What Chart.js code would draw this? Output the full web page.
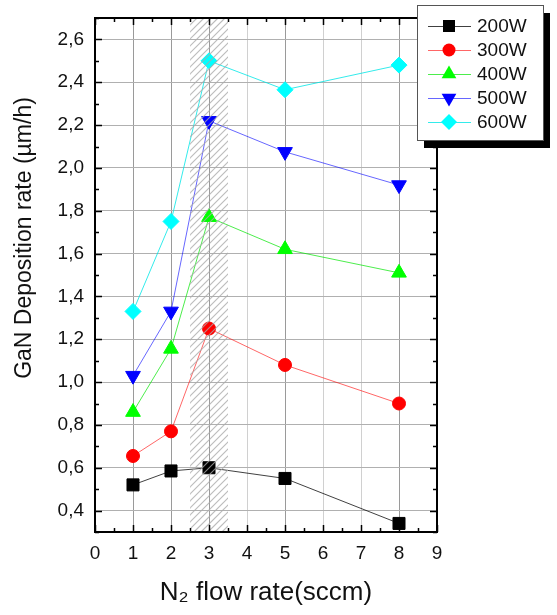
<!DOCTYPE html>
<html>
<head>
<meta charset="utf-8">
<script src="https://cdn.jsdelivr.net/npm/chart.js@4.4.0/dist/chart.umd.min.js"></script>
<style>
html, body { margin: 0; padding: 0; background: #fff; }
#wrap { width: 557px; height: 615px; }
</style>
</head>
<body>
<div id="wrap"><canvas id="grafico"></canvas></div>
<script>
// dados
var fluxos = [1, 2, 3, 5, 8];
var nomesSeries = ["200W", "300W", "400W", "500W", "600W"];
var taxa200 = [0.52, 0.585, 0.60, 0.55, 0.34];
var taxa300 = [0.655, 0.77, 1.25, 1.08, 0.90];
var taxa400 = [0.86, 1.155, 1.77, 1.62, 1.51];
var taxa500 = [1.03, 1.33, 2.22, 2.075, 1.92];
var taxa600 = [1.33, 1.75, 2.50, 2.365, 2.48];
var ticksX = [0, 1, 2, 3, 4, 5, 6, 7, 8, 9];
var ticksY = [0.4, 0.6, 0.8, 1.0, 1.2, 1.4, 1.6, 1.8, 2.0, 2.2, 2.4, 2.6];
var zonaInicio = 2.5;
var zonaFim = 3.5;
var tituloY = 'GaN Deposition rate (\u00b5m/h)';

var fonte = "'Liberation Sans', Arial, sans-serif";

function serie(label, valores, cor, corLinha, simbolo, raio, rot) {
    var pontos = [];
    for (var i = 0; i < fluxos.length; i++) {
        pontos.push({x: fluxos[i], y: valores[i]});
    }
    return {
        label: label,
        data: pontos,
        borderColor: corLinha,
        borderWidth: 1,
        backgroundColor: cor,
        pointBackgroundColor: cor,
        pointBorderColor: cor,
        pointBorderWidth: 1,
        pointStyle: simbolo,
        pointRadius: raio,
        pointRotation: rot,
        showLine: true,
        tension: 0
    };
}

var datasets = [
    serie(nomesSeries[0], taxa200, '#000000', 'rgba(0,0,0,0.75)', 'rect', 8.5, 0),
    serie(nomesSeries[1], taxa300, '#ff0000', 'rgba(255,0,0,0.6)', 'circle', 6.5, 0),
    serie(nomesSeries[2], taxa400, '#00ff00', 'rgba(0,230,0,0.7)', 'triangle', 8.5, 0),
    serie(nomesSeries[3], taxa500, '#0000ff', 'rgba(0,0,255,0.6)', 'triangle', 8.5, 180),
    serie(nomesSeries[4], taxa600, '#00ffff', 'rgba(0,230,230,0.8)', 'rectRot', 8, 0)
];

// zona tracejada, moldura, ticks para dentro, titulo Y e legenda
var extras = {
    id: 'extras',
    afterDatasetsDraw: function (chart) {
        var ctx = chart.ctx;
        var a = chart.chartArea;
        var x0 = chart.scales.x.getPixelForValue(zonaInicio);
        var x1 = chart.scales.x.getPixelForValue(zonaFim);
        ctx.save();
        ctx.beginPath();
        ctx.rect(x0, a.top, x1 - x0, a.bottom - a.top);
        ctx.clip();
        ctx.strokeStyle = 'rgba(170,170,170,0.8)';
        ctx.lineWidth = 1.2;
        var h = a.bottom - a.top;
        for (var s = x0 - h; s < x1 + 10; s += 7) {
            ctx.beginPath();
            ctx.moveTo(s, a.bottom);
            ctx.lineTo(s + h, a.top);
            ctx.stroke();
        }
        ctx.restore();
    },
    afterDraw: function (chart) {
        var ctx = chart.ctx;
        var a = chart.chartArea;
        var sx = chart.scales.x;
        var sy = chart.scales.y;
        ctx.save();
        ctx.strokeStyle = '#000';
        ctx.lineWidth = 2;
        ctx.strokeRect(a.left, a.top, a.right - a.left, a.bottom - a.top);

        ctx.lineWidth = 1.5;
        ctx.beginPath();
        var v, p, len;
        for (v = 0; v <= 18; v++) {
            p = Math.round(sx.getPixelForValue(v / 2)) + 0.5;
            len = (v % 2 == 0) ? 7 : 4;
            ctx.moveTo(p, a.bottom); ctx.lineTo(p, a.bottom - len);
            ctx.moveTo(p, a.top); ctx.lineTo(p, a.top + len);
        }
        for (v = 3; v <= 27; v++) {
            p = Math.round(sy.getPixelForValue(v / 10)) + 0.5;
            len = (v % 2 == 0) ? 7 : 4;
            ctx.moveTo(a.left, p); ctx.lineTo(a.left + len, p);
            ctx.moveTo(a.right, p); ctx.lineTo(a.right - len, p);
        }
        ctx.stroke();

        // titulo do eixo Y
        ctx.save();
        ctx.translate(25, 238);
        ctx.rotate(-Math.PI / 2);
        ctx.font = '23px ' + fonte;
        ctx.fillStyle = '#111';
        ctx.textAlign = 'center';
        ctx.textBaseline = 'middle';
        ctx.fillText(tituloY, 0, 0);
        ctx.restore();

        // legenda
        var lx = 417, ly = 5, lw = 126, lh = 135;
        ctx.fillStyle = '#000';
        ctx.fillRect(lx + 7, ly + 8, lw, lh);
        ctx.fillStyle = '#fff';
        ctx.fillRect(lx, ly, lw, lh);
        ctx.lineWidth = 1;
        ctx.strokeStyle = '#555';
        ctx.strokeRect(lx + 0.5, ly + 0.5, lw, lh);
        ctx.font = '19px ' + fonte;
        ctx.textBaseline = 'middle';
        ctx.textAlign = 'left';
        for (var i = 0; i < chart.data.datasets.length; i++) {
            var ds = chart.data.datasets[i];
            var yy = 26 + i * 24;
            ctx.strokeStyle = ds.borderColor;
            ctx.lineWidth = 1;
            ctx.beginPath();
            ctx.moveTo(428, yy + 0.5);
            ctx.lineTo(471, yy + 0.5);
            ctx.stroke();
            ctx.fillStyle = ds.pointBackgroundColor;
            Chart.helpers.drawPoint(ctx, {
                pointStyle: ds.pointStyle,
                rotation: ds.pointRotation,
                radius: ds.pointRadius,
                borderWidth: 0
            }, 449, yy);
            ctx.fillStyle = '#111';
            ctx.fillText(ds.label, 477, yy + 1);
        }
        ctx.restore();
    }
};

var grafico = new Chart(document.getElementById('grafico'), {
    type: 'scatter',
    data: {datasets: datasets},
    options: {
        responsive: true,
        maintainAspectRatio: false,
        animation: false,
        layout: {padding: {left: 0, top: 18, right: 120, bottom: 0}},
        plugins: {
            legend: {display: false},
            tooltip: {enabled: false}
        },
        scales: {
            x: {
                type: 'linear',
                min: 0,
                max: 9,
                afterFit: function (scale) {
                    scale.height = 83;
                    scale.paddingLeft = 0;
                    scale.paddingRight = 0;
                },
                afterBuildTicks: function (scale) {
                    scale.ticks = ticksX.map(function (t) { return {value: t}; });
                },
                ticks: {
                    padding: 10,
                    color: '#111',
                    font: {family: fonte, size: 19},
                    callback: function (v) { return String(v); }
                },
                grid: {
                    drawTicks: false,
                    lineWidth: 1,
                    color: function (c) {
                        return fluxos.indexOf(c.tick.value) >= 0 ? '#9a9a9a' : '#d0d0d0';
                    }
                },
                border: {display: false},
                title: {
                    display: true,
                    text: 'N\u2082 flow rate(sccm)',
                    color: '#111',
                    font: {family: fonte, size: 26},
                    padding: {top: 0, bottom: 7}
                }
            },
            y: {
                type: 'linear',
                min: 0.3,
                max: 2.7,
                afterFit: function (scale) {
                    scale.width = 95;
                    scale.paddingTop = 0;
                    scale.paddingBottom = 0;
                },
                afterBuildTicks: function (scale) {
                    scale.ticks = ticksY.map(function (t) { return {value: t}; });
                },
                ticks: {
                    padding: 11,
                    color: '#111',
                    font: {family: fonte, size: 19},
                    callback: function (v) { return v.toFixed(1).replace('.', ','); }
                },
                grid: {
                    drawTicks: false,
                    lineWidth: 1,
                    color: '#b0b0b0'
                },
                border: {display: false},
                title: {display: false}
            }
        }
    },
    plugins: [extras]
});
</script>
</body>
</html>
